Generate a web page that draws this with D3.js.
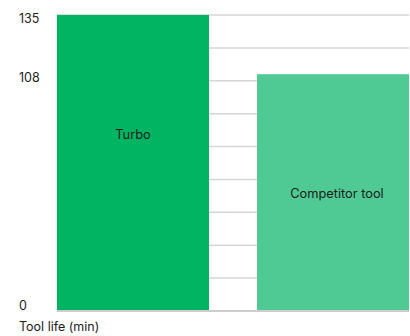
<!DOCTYPE html>
<html>
<head>
<meta charset="utf-8">
<script src="https://cdn.jsdelivr.net/npm/d3@7"></script>
<style>
  body { margin: 0; background: #fff; }
  svg text { font-family: Inter, "Noto Sans", sans-serif; fill: #1c1c1c; }
</style>
</head>
<body>
<svg id="chart"></svg>
<script>
const categories = ['Turbo', 'Competitor tool'];
const values = [135, 108];
const barColors = ['#00b462', '#4fca94'];
const gridValues = [0, 15, 30, 45, 60, 75, 90, 105, 120, 135];
const tickLabels = [0, 108, 135];
const axisTitle = 'Tool life (min)';

const width = 410;
const height = 336;
const margin = {top: 15, right: 1, bottom: 25, left: 57};

const svg = d3.select('#chart')
    .attr('width', width)
    .attr('height', height);

const xScale = d3.scaleBand()
    .domain(categories)
    .range([margin.left, width - margin.right])
    .paddingInner(0.24)
    .paddingOuter(0);
const yScale = d3.scaleLinear()
    .domain([0, 135])
    .range([height - margin.bottom, margin.top]);

// grid lines
svg.append('g').selectAll('line').data(gridValues)
    .enter().append('line')
        .attr('x1', margin.left)
        .attr('x2', width - margin.right)
        .attr('y1', d => yScale(d))
        .attr('y2', d => yScale(d))
        .attr('stroke', d => d === 0 ? '#bdbdbd' : '#d6d6d6')
        .attr('stroke-width', 1.5);

// bars
svg.append('g').selectAll('rect').data(categories)
    .enter().append('rect')
        .attr('x', d => xScale(d))
        .attr('y', (d, i) => yScale(values[i]))
        .attr('width', xScale.bandwidth())
        .attr('height', (d, i) => yScale(0) - yScale(values[i]) - 1)
        .attr('fill', (d, i) => barColors[i]);

// bar labels
svg.append('g').selectAll('text').data(categories)
    .enter().append('text')
        .attr('x', d => xScale(d) + xScale.bandwidth() / 2 + (d === 'Turbo' ? 0 : 4))
        .attr('y', (d, i) => yScale(values[i]) + 124)
        .attr('text-anchor', 'middle')
        .attr('font-size', 12.8)
        .text(d => d);

// y tick labels
svg.append('g').selectAll('text').data(tickLabels)
    .enter().append('text')
        .attr('x', 19)
        .attr('y', d => d === 0 ? yScale(d) - 1 : yScale(d) + 7.5)
        .attr('font-size', 12.5)
        .text(d => d);

svg.append('text')
    .attr('x', 19)
    .attr('y', 331)
    .attr('font-size', 12.5)
    .text(axisTitle);
</script>
</body>
</html>
